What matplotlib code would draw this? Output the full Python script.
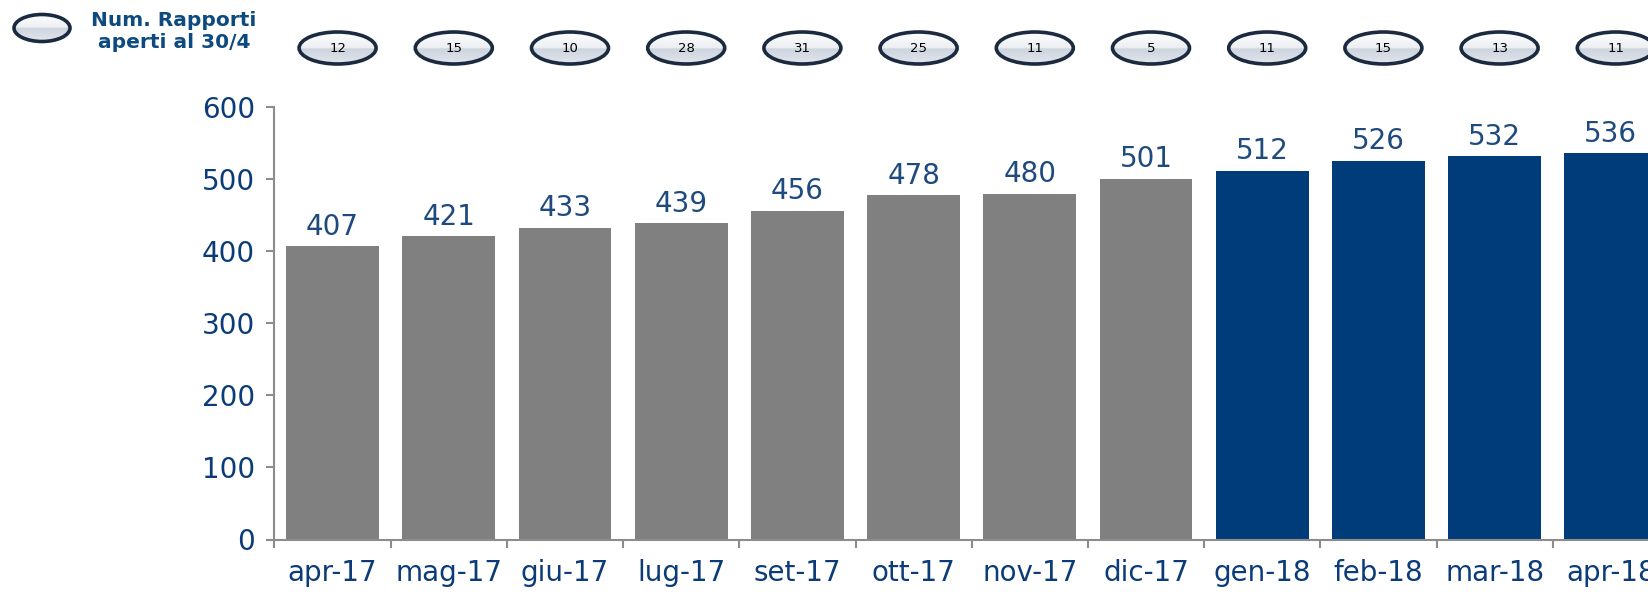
import numpy as np
import matplotlib.pyplot as plt
from matplotlib.patches import Ellipse
from matplotlib.colors import LinearSegmentedColormap

# chart data
months = ['apr-17', 'mag-17', 'giu-17', 'lug-17', 'set-17', 'ott-17',
          'nov-17', 'dic-17', 'gen-18', 'feb-18', 'mar-18', 'apr-18']
totali = [407, 421, 433, 439, 456, 478, 480, 501, 512, 526, 532, 536]
aperti = [12, 15, 10, 28, 31, 25, 11, 5, 11, 15, 13, 11]
anno18 = [False] * 8 + [True] * 4

W, H = 1649, 594
navy = '#003b7a'
grey = '#808080'

fig = plt.figure(figsize=(W / 100, H / 100), dpi=100)
ax = fig.add_axes([274.5 / W, 1 - 539.5 / H, 12 * 116.2 / W, (539.5 - 107.3) / H])

x = np.arange(len(months))
cols = [navy if n else grey for n in anno18]
ax.bar(x, totali, width=0.8, color=cols, zorder=2)

# value labels over the bars
for xi, v in zip(x, totali):
    ax.annotate(str(v), (xi, v), xytext=(0, 4), textcoords='offset points',
                ha='center', va='bottom', fontsize=20, color='#1f4a7e')

ax.set_xlim(-0.5, len(months) - 0.5)
ax.set_ylim(0, 600)
ax.set_yticks(range(0, 601, 100))
ax.set_xticks(np.arange(-0.5, len(months), 1.0))
ax.set_xticks(x, minor=True)
ax.set_xticklabels([''] * len(ax.get_xticks()))
ax.set_xticklabels(months, minor=True)

for s in ['top', 'right']:
    ax.spines[s].set_visible(False)
for s in ['left', 'bottom']:
    ax.spines[s].set_color('#8c8c8c')
    ax.spines[s].set_linewidth(1.5)

ax.tick_params(axis='x', which='major', direction='out', length=6, width=1.5, color='#8c8c8c')
ax.tick_params(axis='x', which='minor', length=0, pad=14, labelsize=20, labelcolor='#0b3c78')
ax.tick_params(axis='y', direction='out', length=6, width=1.5, color='#8c8c8c',
               labelsize=20, labelcolor='#0b3c78', pad=8)

# overlay in pixel coordinates for the oval badges
ov = fig.add_axes([0, 0, 1, 1], zorder=5)
ov.set_xlim(0, W)
ov.set_ylim(H, 0)
ov.axis('off')
ov.patch.set_alpha(0)

cmap = LinearSegmentedColormap.from_list('oval', [(0, '#ffffff'), (0.5, '#eceef2'),
                                                  (0.52, '#cdd4de'), (1, '#e2e6ec')])
grad = np.linspace(0, 1, 100).reshape(-1, 1)


def oval(cx, cy, w, h, label=None):
    e = Ellipse((cx, cy), w, h, facecolor='none', edgecolor='#1b2a3f', linewidth=2.6, zorder=3)
    ov.add_patch(e)
    im = ov.imshow(grad, cmap=cmap, extent=[cx - w / 2, cx + w / 2, cy + h / 2, cy - h / 2],
                   aspect='auto', zorder=2)
    im.set_clip_path(e)
    if label is not None:
        ov.text(cx, cy + 1, label, ha='center', va='center', fontsize=9.5, color='black', zorder=4)


fig.canvas.draw()
for xi, n in zip(x, aperti):
    px = ax.transData.transform((xi, 0))[0]
    oval(px + 5, 48, 77, 32, str(n))
ov.set_xlim(0, W)
ov.set_ylim(H, 0)

# legend
oval(42, 28, 56, 27)
ov.text(174, 32, 'Num. Rapporti\naperti al 30/4', ha='center', va='center',
        fontsize=14.5, fontweight='bold', color='#0d4a7f', linespacing=1.2)

fig.savefig('out.png', dpi=100)
